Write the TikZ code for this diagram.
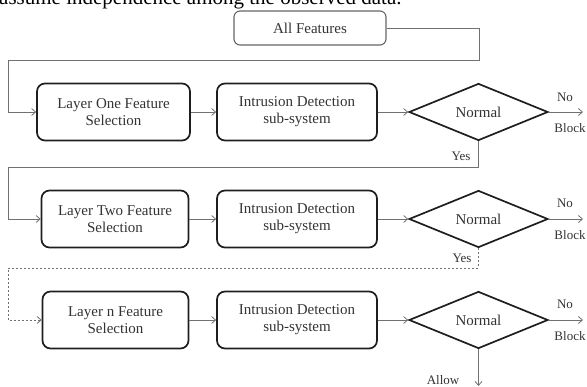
\documentclass[tikz,border=0pt]{standalone}
\usepackage{fontspec}
\setmainfont{Liberation Serif}
\usetikzlibrary{shapes.geometric,arrows.meta}
\definecolor{txt}{HTML}{333333}
\definecolor{ln}{HTML}{707070}
\definecolor{bd}{HTML}{1E1E1E}
\tikzset{
  procbox/.style={draw=bd, line width=1.7pt, rounded corners=8pt, align=center,
    minimum height=57pt, inner sep=0pt, text=txt, font=\fontsize{15}{17}\selectfont},
  topbox/.style={draw=ln!90!black, line width=1.1pt, rounded corners=6pt, align=center,
    minimum width=152pt, minimum height=34pt, inner sep=0pt, text=txt, font=\fontsize{15}{17}\selectfont},
  decide/.style={draw=bd, diamond, line width=1.7pt, aspect=2.44, minimum width=139pt,
    minimum height=57pt, inner sep=0pt, text=txt, font=\fontsize{15}{17}\selectfont},
  conn/.style={draw=ln, line width=0.8pt, -{Straight Barb[length=4pt,width=7pt]}},
  dconn/.style={conn, dash pattern=on 2pt off 2pt},
  lab/.style={text=txt, font=\fontsize{13}{15}\selectfont, inner sep=0pt}
}
\begin{document}
\begin{tikzpicture}[x=1pt,y=-1pt]
\useasboundingbox (0,0) rectangle (587,387);
% clipped sentence at top
\node[anchor=base west, inner sep=0pt, font=\fontsize{21}{25}\selectfont] (cut) at (-1,5) {assume independence among the observed data.};
% nodes
\node[topbox] (allf) at (310,28) {All Features};
\node[procbox, minimum width=153pt] (l1) at (113.5,112) {Layer One Feature\\Selection};
\node[procbox, minimum width=160pt] (ids1) at (297,112) {Intrusion Detection\\sub-system};
\node[decide] (d1) at (478.5,112) {Normal};
\node[procbox, minimum width=147pt] (l2) at (115,219) {Layer Two Feature\\Selection};
\node[procbox, minimum width=160pt] (ids2) at (297,219) {Intrusion Detection\\sub-system};
\node[decide] (d2) at (478.5,219) {Normal};
\node[procbox, minimum width=146pt] (l3) at (115.5,320) {Layer n Feature\\Selection};
\node[procbox, minimum width=160pt] (ids3) at (297,320) {Intrusion Detection\\sub-system};
\node[decide] (d3) at (478.5,320) {Normal};
% coordinates
\coordinate (a1) at (479,60);
\coordinate (a2) at (8,60);
\coordinate (b1) at (478.5,167);
\coordinate (b2) at (8,167);
\coordinate (c1) at (478.5,268);
\coordinate (c2) at (8,268);
\coordinate (e3) at (478.5,386);
\coordinate (n1) at (583,112);
\coordinate (n2) at (583,219);
\coordinate (n3) at (583,320);
% connectors
\draw[conn] (allf.east) -| (a1) -- (a2) |- (l1.west);
\draw[conn] (l1) -- (ids1);
\draw[conn] (ids1) -- (d1);
\draw[conn] (d1.east) -- (n1);
\draw[conn] (d1.south) -- (b1) -- (b2) |- (l2.west);
\draw[conn] (l2) -- (ids2);
\draw[conn] (ids2) -- (d2);
\draw[conn] (d2.east) -- (n2);
\draw[dconn] (d2.south) -- (c1) -- (c2) |- (l3.west);
\draw[conn] (l3) -- (ids3);
\draw[conn] (ids3) -- (d3);
\draw[conn] (d3.east) -- (n3);
\draw[conn] (d3.south) -- (e3);
% labels
\node[lab] (no1) at (565,97) {No};
\node[lab] (bl1) at (570,128) {Block};
\node[lab] (no2) at (565,203) {No};
\node[lab] (bl2) at (570,235) {Block};
\node[lab] (no3) at (565,304) {No};
\node[lab] (bl3) at (570,336) {Block};
\node[lab] (y1) at (461,156) {Yes};
\node[lab] (y2) at (462,258) {Yes};
\node[lab] (al) at (443,380) {Allow};
\end{tikzpicture}
\end{document}
